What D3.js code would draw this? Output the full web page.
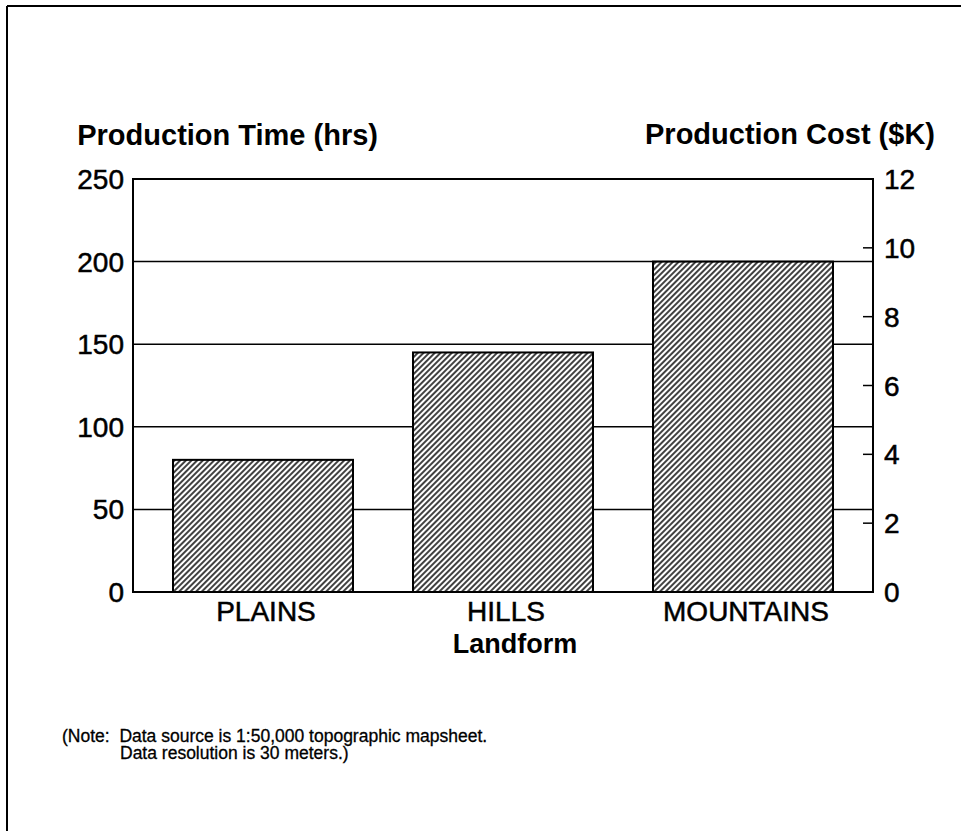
<!DOCTYPE html>
<html>
<head>
<meta charset="utf-8">
<script src="https://cdn.jsdelivr.net/npm/d3@7"></script>
<style>
    body { margin: 0; background: #fff; }
    text { font-family: "Liberation Sans", Arial, Helvetica, sans-serif; fill: #000; }
    .tick-label { font-size: 28px; stroke: #000; stroke-width: 0.5px; }
    .title { font-size: 29px; font-weight: bold; }
    .axis-title { font-size: 27px; font-weight: bold; }
    .note { font-size: 17.5px; stroke: #000; stroke-width: 0.3px; white-space: pre; }
</style>
</head>
<body>
<div id="chart"></div>
<script>
// data
const landforms = ["PLAINS", "HILLS", "MOUNTAINS"];
const productionHours = [80, 145, 200];
const hourTicks = [0, 50, 100, 150, 200, 250];
const costTicks = [0, 2, 4, 6, 8, 10, 12];
const noteLines = [
    "(Note:  Data source is 1:50,000 topographic mapsheet.",
    "Data resolution is 30 meters.)"
];

const width = 961, height = 831;
const plot = {left: 133, right: 873, top: 179, bottom: 592};

const svg = d3.select("#chart").append("svg")
    .attr("width", width)
    .attr("height", height);

// page frame (top and left edge only show in the scan)
svg.append("line")
    .attr("x1", 7).attr("y1", 6).attr("x2", width).attr("y2", 6)
    .attr("stroke", "#000").attr("stroke-width", 2);
svg.append("line")
    .attr("x1", 7).attr("y1", 6).attr("x2", 7).attr("y2", height)
    .attr("stroke", "#000").attr("stroke-width", 2);

// hatch pattern for the bars
let defs = svg.append("defs");
let pattern = defs.append("pattern")
    .attr("id", "hatch")
    .attr("patternUnits", "userSpaceOnUse")
    .attr("width", 4)
    .attr("height", 4)
    .attr("patternTransform", "rotate(45)");
pattern.append("rect")
    .attr("width", 4).attr("height", 4)
    .attr("fill", "#fff");
pattern.append("line")
    .attr("x1", 1).attr("y1", 0).attr("x2", 1).attr("y2", 4)
    .attr("stroke", "#111").attr("stroke-width", 1.6);

// scales
let x = d3.scaleBand()
    .domain(landforms)
    .range([plot.left, plot.right])
    .paddingInner(0.25)
    .paddingOuter(1 / 6);

let yHours = d3.scaleLinear()
    .domain([0, 250])
    .range([plot.bottom, plot.top]);

let yCost = d3.scaleLinear()
    .domain([0, 12])
    .range([plot.bottom, plot.top]);

// gridlines
svg.append("g")
    .selectAll("line")
    .data(hourTicks.filter(d => d > 0 && d < 250))
    .enter()
    .append("line")
    .attr("x1", plot.left)
    .attr("x2", plot.right)
    .attr("y1", d => yHours(d))
    .attr("y2", d => yHours(d))
    .attr("stroke", "#000")
    .attr("stroke-width", 1.5);

// bars
svg.append("g")
    .selectAll("rect")
    .data(landforms)
    .enter()
    .append("rect")
    .attr("x", d => x(d))
    .attr("width", x.bandwidth())
    .attr("y", (d, i) => yHours(productionHours[i]))
    .attr("height", (d, i) => yHours(0) - yHours(productionHours[i]))
    .attr("fill", "url(#hatch)")
    .attr("stroke", "#000")
    .attr("stroke-width", 2);

// plot box
svg.append("rect")
    .attr("x", plot.left)
    .attr("y", plot.top)
    .attr("width", plot.right - plot.left)
    .attr("height", plot.bottom - plot.top)
    .attr("fill", "none")
    .attr("stroke", "#000")
    .attr("stroke-width", 2);

// right axis ticks point inwards
svg.append("g")
    .selectAll("line")
    .data(costTicks.filter(d => d > 0 && d < 12))
    .enter()
    .append("line")
    .attr("x1", plot.right - 10)
    .attr("x2", plot.right)
    .attr("y1", d => yCost(d))
    .attr("y2", d => yCost(d))
    .attr("stroke", "#000")
    .attr("stroke-width", 1.5);

// tick labels
svg.append("g")
    .selectAll("text")
    .data(hourTicks)
    .enter()
    .append("text")
    .attr("class", "tick-label")
    .attr("x", 124)
    .attr("y", d => yHours(d))
    .attr("dy", "0.36em")
    .attr("text-anchor", "end")
    .text(d => d);

svg.append("g")
    .selectAll("text")
    .data(costTicks)
    .enter()
    .append("text")
    .attr("class", "tick-label")
    .attr("x", 884)
    .attr("y", d => yCost(d))
    .attr("dy", "0.36em")
    .text(d => d);

svg.append("g")
    .selectAll("text")
    .data(landforms)
    .enter()
    .append("text")
    .attr("class", "tick-label")
    .attr("x", d => x(d) + x.bandwidth() / 2 + 3)
    .attr("y", 621)
    .attr("text-anchor", "middle")
    .text(d => d);

// titles
svg.append("text")
    .attr("class", "title")
    .attr("x", 378)
    .attr("y", 145)
    .attr("text-anchor", "end")
    .text("Production Time (hrs)");

svg.append("text")
    .attr("class", "title")
    .attr("x", 935)
    .attr("y", 144)
    .attr("text-anchor", "end")
    .text("Production Cost ($K)");

svg.append("text")
    .attr("class", "axis-title")
    .attr("x", 515)
    .attr("y", 653)
    .attr("text-anchor", "middle")
    .text("Landform");

// note
svg.append("text")
    .attr("class", "note")
    .attr("x", 62)
    .attr("y", 742)
    .text(noteLines[0]);

svg.append("text")
    .attr("class", "note")
    .attr("x", 120)
    .attr("y", 759)
    .text(noteLines[1]);
</script>
</body>
</html>
